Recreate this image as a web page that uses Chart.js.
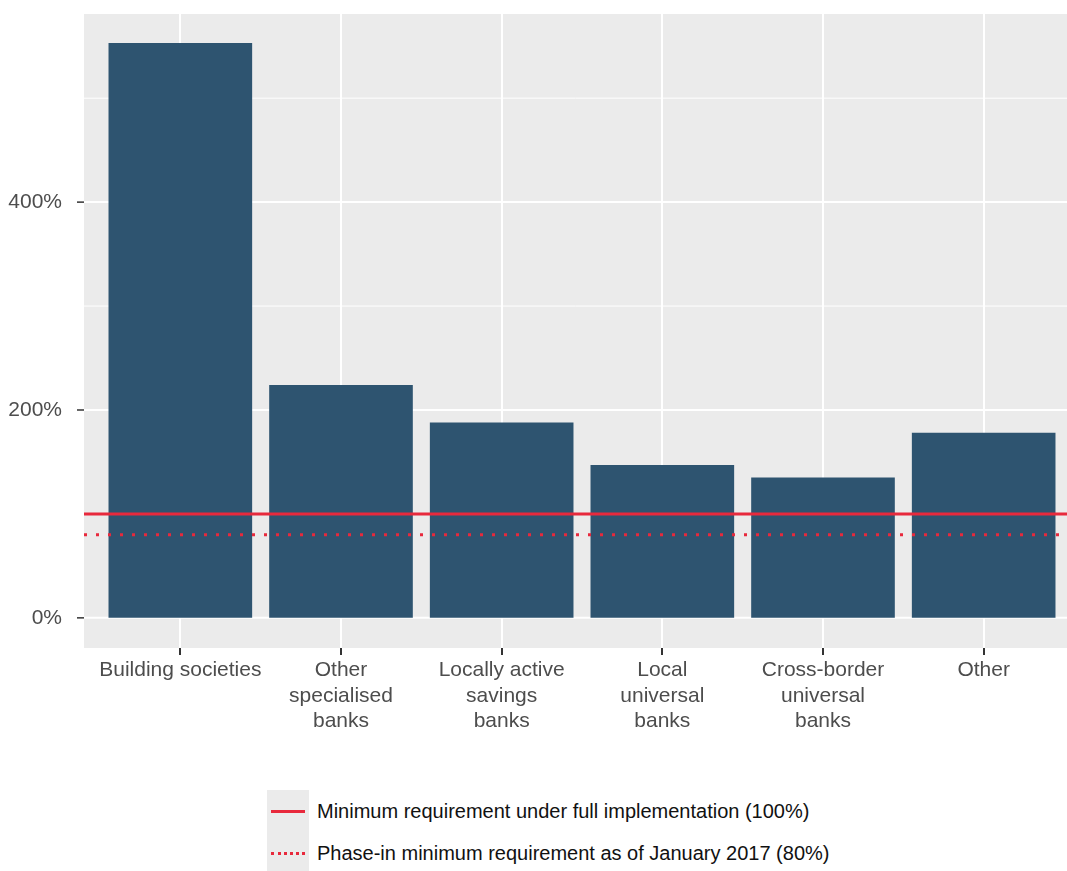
<!DOCTYPE html>
<html>
<head>
<meta charset="utf-8">
<script src="https://cdn.jsdelivr.net/npm/chart.js@4"></script>
<style>
  body { margin: 0; background: #fff; font-family: "Liberation Sans", Arial, sans-serif; }
  #wrap { position: relative; width: 1067px; height: 760px; }
  .legend { position: absolute; left: 267px; top: 790px; font-size: 20px; color: #111; }
  .item { display: flex; align-items: center; height: 42px; }
  .key { width: 42px; height: 42px; background: #ebebeb; position: relative; margin-right: 8px; }
  .key .solid { position: absolute; left: 4px; right: 4px; top: 20px; border-top: 3px solid #e8293c; }
  .key .dot { position: absolute; left: 4px; right: 4px; top: 20px; border-top: 3px dotted #e8293c; }
</style>
</head>
<body>
<div id="wrap"><canvas id="c" width="1067" height="760"></canvas></div>
<div class="legend">
  <div class="item"><div class="key"><div class="solid"></div></div>Minimum requirement under full implementation (100%)</div>
  <div class="item"><div class="key"><div class="dot"></div></div>Phase-in minimum requirement as of January 2017 (80%)</div>
</div>
<script>
const categories = [
    ['Building societies'],
    ['Other', 'specialised', 'banks'],
    ['Locally active', 'savings', 'banks'],
    ['Local', 'universal', 'banks'],
    ['Cross-border', 'universal', 'banks'],
    ['Other']
];
const ratios = [553, 224, 188, 147, 135, 178];
const yTicks = [0, 100, 200, 300, 400, 500];
const fullRequirement = 100;
const phaseInRequirement = 80;

const EXTRA = 16;   // panel extends left of the first category band
const EXTRA_R = 3;  // and a little right of the last

const panel = {
    id: 'panel',
    beforeDraw(chart) {
        const { ctx, chartArea: a, scales } = chart;
        const l = a.left - EXTRA, r = a.right + EXTRA_R;
        ctx.save();
        ctx.fillStyle = '#ebebeb';
        ctx.fillRect(l, a.top, r - l, a.bottom - a.top);
        yTicks.forEach(v => {
            const y = scales.y.getPixelForValue(v);
            ctx.strokeStyle = '#ffffff';
            ctx.lineWidth = v % 200 === 0 ? 2 : 1;
            ctx.beginPath(); ctx.moveTo(l, y); ctx.lineTo(r, y); ctx.stroke();
            if (v % 200 === 0) {
                ctx.strokeStyle = '#333'; ctx.lineWidth = 1.5;
                ctx.beginPath(); ctx.moveTo(l - 7, y); ctx.lineTo(l, y); ctx.stroke();
            }
        });
        ctx.restore();
    },
    afterDatasetsDraw(chart) {
        const { ctx, chartArea: a, scales } = chart;
        const l = a.left - EXTRA, r = a.right + EXTRA_R;
        ctx.save();
        ctx.strokeStyle = '#e8293c';
        ctx.lineWidth = 3;
        let y = scales.y.getPixelForValue(fullRequirement);
        ctx.beginPath(); ctx.moveTo(l, y); ctx.lineTo(r, y); ctx.stroke();
        ctx.setLineDash([3, 9]);
        y = scales.y.getPixelForValue(phaseInRequirement);
        ctx.beginPath(); ctx.moveTo(l, y); ctx.lineTo(r, y); ctx.stroke();
        ctx.restore();
    }
};

new Chart(document.getElementById('c'), {
    type: 'bar',
    data: {
        labels: categories,
        datasets: [{
            data: ratios,
            backgroundColor: '#2e5470',
            categoryPercentage: 1,
            barPercentage: 0.894
        }]
    },
    plugins: [panel],
    options: {
        responsive: false,
        animation: false,
        layout: { padding: { top: 0, right: EXTRA_R } },
        plugins: { legend: { display: false }, tooltip: { enabled: false } },
        scales: {
            x: {
                grid: { offset: false, color: '#ffffff', lineWidth: 2, tickColor: '#333', tickLength: 7 },
                border: { display: false },
                ticks: { color: '#4d4d4d', font: { size: 21, family: 'Liberation Sans' }, maxRotation: 0, autoSkip: false, padding: 3, lineHeight: 1.2 },
                afterFit(s) { s.height = 112; s.paddingLeft = 0; s.paddingRight = 0; }
            },
            y: {
                min: -29, max: 581,
                afterBuildTicks(s) { s.ticks = yTicks.map(v => ({ value: v })); },
                grid: { display: false },
                border: { display: false },
                ticks: {
                    color: '#4d4d4d',
                    font: { size: 21, family: 'Liberation Sans' },
                    padding: 30,
                    callback: v => v % 200 === 0 ? v + '%' : ''
                },
                afterFit(s) { s.width = 100; s.paddingTop = 14; s.paddingBottom = 0; }
            }
        }
    }
});
</script>
</body>
</html>
